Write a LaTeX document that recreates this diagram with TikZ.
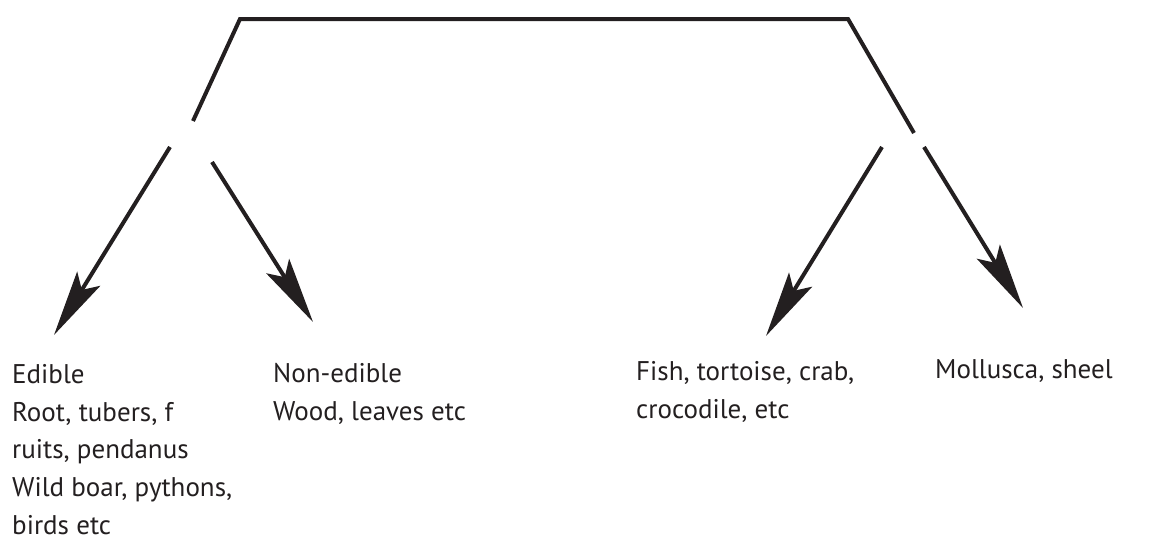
\documentclass[tikz,border=0pt]{standalone}
\usepackage{fontspec}
\setmainfont{PT Sans}
\usetikzlibrary{arrows.meta}
\definecolor{ink}{HTML}{231F20}
\begin{document}
\begin{tikzpicture}[x=1pt,y=-1pt,
  line/.style={draw=ink,line width=4pt,line cap=butt,line join=miter},
  arr/.style={line,-{Stealth[length=66pt,width=27pt,inset=13pt]}},
  lbl/.style={anchor=north west,inner sep=0pt,align=left,text=ink,
    font=\fontsize{27}{37.8}\selectfont}]
\useasboundingbox (0,0) rectangle (1169,538);
% frame line
\coordinate (l0) at (193,121);
\coordinate (l1) at (240,19);
\coordinate (r1) at (848,19);
\coordinate (r0) at (914,133);
\draw[line] (l0) -- (l1) -- (r1) -- (r0);
% arrow starts
\coordinate (la) at (170,147);
\coordinate (lb) at (212,162);
\coordinate (ra) at (882,147);
\coordinate (rb) at (924,147);
% arrow tips
\coordinate (ta) at (54,335);
\coordinate (tb) at (313,322);
\coordinate (tc) at (766,336);
\coordinate (td) at (1023,308);
\draw[arr] (la) -- (ta);
\draw[arr] (lb) -- (tb);
\draw[arr] (ra) -- (tc);
\draw[arr] (rb) -- (td);
% labels
\node[lbl] (edible) at (12,364) {Edible\\Root, tubers, f\\ruits, pendanus\\Wild boar, pythons,\\birds etc};
\node[lbl] (nonedible) at (273,363) {Non-edible\\Wood, leaves etc};
\node[lbl] (fish) at (636,361) {Fish, tortoise, crab,\\crocodile, etc};
\node[lbl] (moll) at (935,359) {Mollusca, sheel};
\end{tikzpicture}
\end{document}
